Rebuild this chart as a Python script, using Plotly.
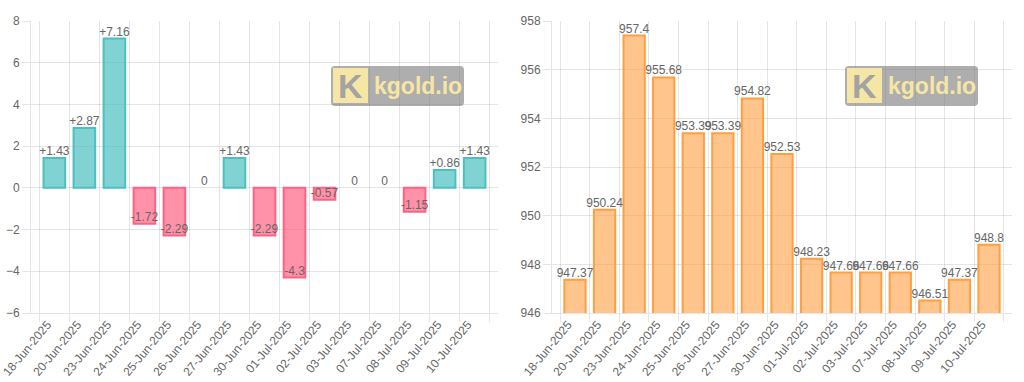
import plotly.graph_objects as go

dates = ["18-Jun-2025", "20-Jun-2025", "23-Jun-2025", "24-Jun-2025", "25-Jun-2025",
         "26-Jun-2025", "27-Jun-2025", "30-Jun-2025", "01-Jul-2025", "02-Jul-2025",
         "03-Jul-2025", "07-Jul-2025", "08-Jul-2025", "09-Jul-2025", "10-Jul-2025"]
changes = [1.43, 2.87, 7.16, -1.72, -2.29, 0, 1.43, -2.29, -4.3, -0.57, 0, 0, -1.15, 0.86, 1.43]
prices = [947.37, 950.24, 957.4, 955.68, 953.39, 953.39, 954.82, 952.53, 948.23,
          947.66, 947.66, 947.66, 946.51, 947.37, 948.8]

W, H = 1024, 382
FONT = "Liberation Sans, Arial, sans-serif"
GRID = "rgba(0,0,0,0.1)"
TXT = "#666"

def px(x):
    return x / W

def py(y):
    return 1 - y / H

pos_fill, pos_line = "rgba(75,192,192,0.7)", "rgb(75,192,192)"
neg_fill, neg_line = "rgba(255,99,132,0.7)", "rgb(255,99,132)"

fig = go.Figure()

fig.add_trace(go.Bar(
    x=dates, y=changes, xaxis="x", yaxis="y",
    marker=dict(color=[pos_fill if v >= 0 else neg_fill for v in changes],
                line=dict(color=[pos_line if v >= 0 else neg_line for v in changes],
                          width=[0 if v == 0 else 2 for v in changes])),
    showlegend=False, hoverinfo="x+y",
))
fig.add_trace(go.Scatter(
    x=dates, y=changes, xaxis="x", yaxis="y", mode="text",
    text=[("+%g" % v) if v > 0 else ("%g" % v) for v in changes],
    textposition="top center", textfont=dict(family=FONT, size=12, color=TXT),
    showlegend=False, hoverinfo="skip", cliponaxis=False,
))

fig.add_trace(go.Bar(
    x=dates, y=prices, xaxis="x2", yaxis="y2",
    marker=dict(color="rgba(255,159,64,0.6)", line=dict(color="rgb(255,159,64)", width=2)),
    showlegend=False, hoverinfo="x+y",
))
fig.add_trace(go.Scatter(
    x=dates, y=prices, xaxis="x2", yaxis="y2", mode="text",
    text=["%g" % v for v in prices],
    textposition="top center", textfont=dict(family=FONT, size=12, color=TXT),
    showlegend=False, hoverinfo="skip", cliponaxis=False,
))

ydom = [py(313), py(21)]
xcommon = dict(type="category", tickson="boundaries", showgrid=True, gridcolor=GRID,
               ticks="outside", ticklen=8, tickcolor=GRID, tickangle=-50,
               ticklabelshift=-7, ticklabelstandoff=-1,
               tickfont=dict(family=FONT, size=12, color=TXT), automargin=False,
               showline=True, linecolor=GRID, zeroline=False, fixedrange=True)
ycommon = dict(showgrid=True, gridcolor=GRID, ticks="outside", ticklen=8, tickcolor=GRID,
               tickfont=dict(family=FONT, size=12, color=TXT), automargin=False,
               showline=True, linecolor=GRID, fixedrange=True)

fig.update_layout(
    width=W, height=H, autosize=False,
    margin=dict(l=0, r=0, t=0, b=0),
    paper_bgcolor="white", plot_bgcolor="white",
    bargap=0.28,
    font=dict(family=FONT, size=12, color=TXT),
    xaxis=dict(domain=[px(31), px(498)], anchor="y", **xcommon),
    yaxis=dict(domain=ydom, anchor="x", range=[-6, 8], dtick=2,
               zeroline=True, zerolinecolor=GRID, zerolinewidth=1, **ycommon),
    xaxis2=dict(domain=[px(552), px(1012)], anchor="y2", **xcommon),
    yaxis2=dict(domain=ydom, anchor="x2", range=[946, 958], dtick=2, zeroline=False, **ycommon),
)

def rrect(x0, y0, x1, y1, r):
    X0, X1 = px(x0), px(x1)
    Y0, Y1 = py(y0), py(y1)
    rx, ry = r / W, r / H
    return (f"M {X0+rx},{Y0} L {X1-rx},{Y0} Q {X1},{Y0} {X1},{Y0-ry} "
            f"L {X1},{Y1+ry} Q {X1},{Y1} {X1-rx},{Y1} L {X0+rx},{Y1} "
            f"Q {X0},{Y1} {X0},{Y1+ry} L {X0},{Y0-ry} Q {X0},{Y0} {X0+rx},{Y0} Z")

for bx in (331, 845):
    fig.add_shape(type="path", xref="paper", yref="paper", path=rrect(bx, 66, bx + 133, 106, 4),
                  fillcolor="rgba(120,120,120,0.6)", line=dict(width=0), layer="above")
    fig.add_shape(type="rect", xref="paper", yref="paper",
                  x0=px(bx + 2), x1=px(bx + 37), y0=py(103), y1=py(68),
                  fillcolor="#f6e6a6", line=dict(width=0), layer="above")
    fig.add_annotation(xref="paper", yref="paper", x=px(bx + 19), y=py(86), text="<b>K</b>",
                       showarrow=False, font=dict(family=FONT, size=34, color="#a3a3a3"),
                       xanchor="center", yanchor="middle")
    fig.add_annotation(xref="paper", yref="paper", x=px(bx + 41), y=py(86), text="<b>kgold.io</b>",
                       showarrow=False, font=dict(family=FONT, size=23, color="#f6e6a6"),
                       xanchor="left", yanchor="middle")

fig.write_html("out.html", config={"displayModeBar": False},
               post_script="document.body.style.margin='0';document.body.style.overflow='hidden';")
